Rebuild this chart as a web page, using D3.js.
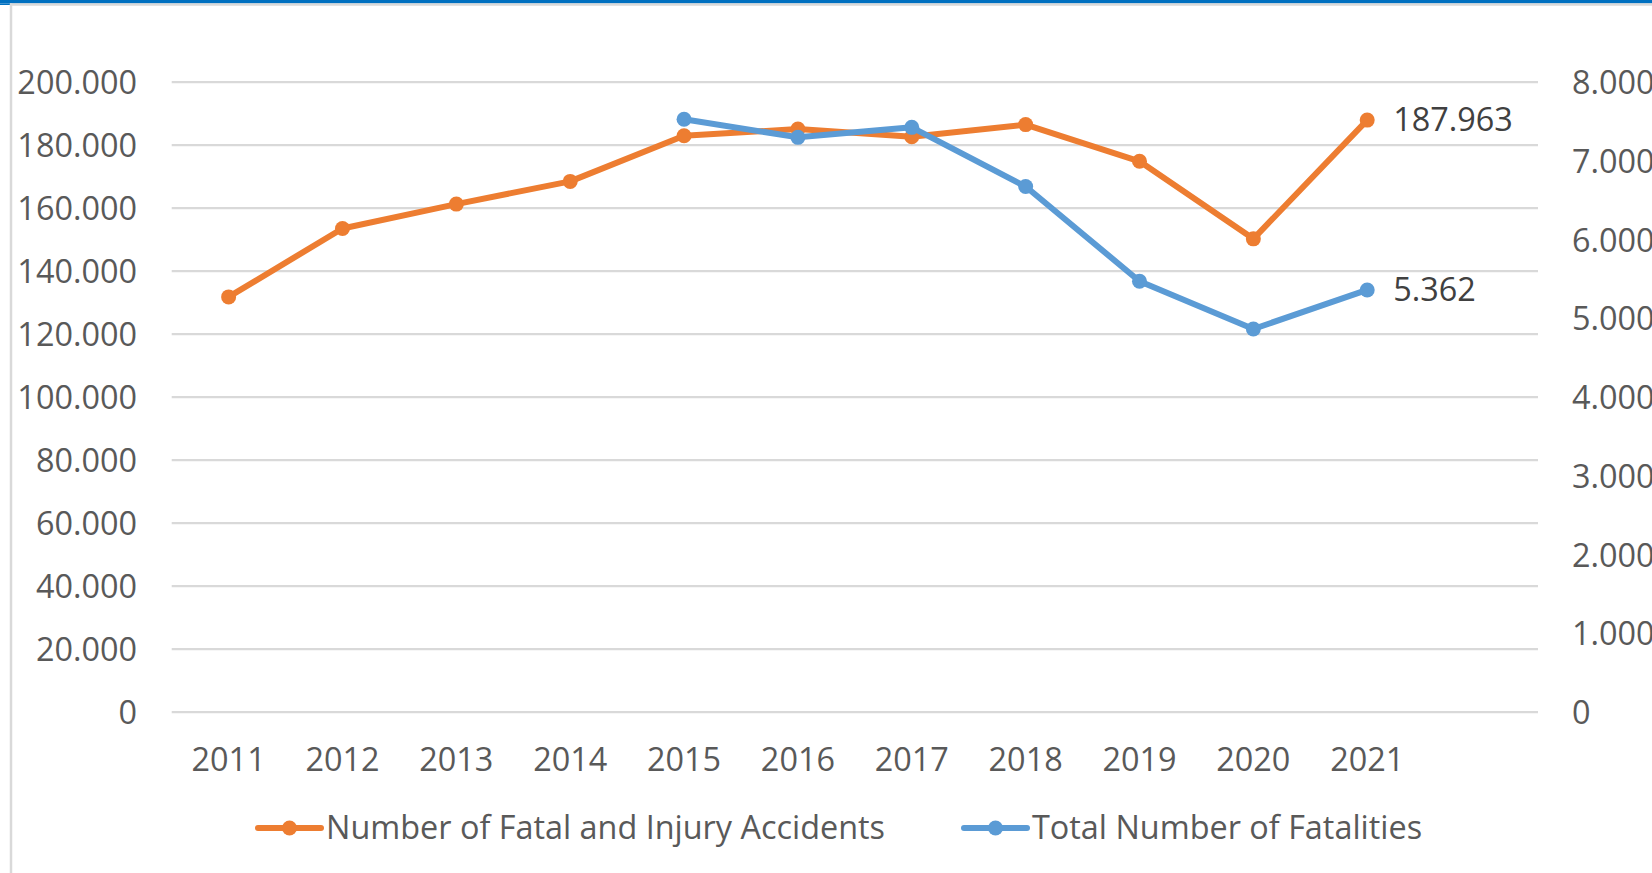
<!DOCTYPE html>
<html>
<head>
<meta charset="utf-8">
<script src="https://cdn.jsdelivr.net/npm/d3@7"></script>
<style>
  html, body { margin: 0; padding: 0; background: #fff; }
  svg { display: block; }
  text { font-family: "Open Sans", "Noto Sans", sans-serif; fill: #595959; }
</style>
</head>
<body>
<svg id="chart" width="1652" height="873"></svg>
<script>
const years = ["2011","2012","2013","2014","2015","2016","2017","2018","2019","2020","2021"];
const accidents = [131845, 153552, 161306, 168512, 183011, 185128, 182669, 186532, 174896, 150275, 187963];
const fatalities = [null, null, null, null, 7530, 7300, 7427, 6675, 5473, 4866, 5362];
const leftTicks = [0, 20000, 40000, 60000, 80000, 100000, 120000, 140000, 160000, 180000, 200000];
const rightTicks = [0, 1000, 2000, 3000, 4000, 5000, 6000, 7000, 8000];
const seriesNames = ["Number of Fatal and Injury Accidents", "Total Number of Fatalities"];
const colors = ["#ED7D31", "#5B9BD5"];

const fmt = v => d3.format(",")(v).replace(/,/g, ".");

const svg = d3.select("#chart");
const W = 1652, H = 873;
const plotL = 171.7, plotR = 1538, plotT = 82.2, plotB = 712.2;
const band = (plotR - plotL) / 12;
const FS = 32.4;

const x = d3.scaleBand().domain(years).range([plotL, plotL + band * years.length]);
const yL = d3.scaleLinear().domain([0, 200000]).range([plotB, plotT]);
const yR = d3.scaleLinear().domain([0, 8000]).range([plotB, plotT]);
const cx = d => x(d) + x.bandwidth() / 2;

// frame: blue top bar and light grey border
svg.append("rect").attr("x", 0).attr("y", 0).attr("width", W).attr("height", 3.5).attr("fill", "#0070C0");
svg.append("rect").attr("x", 0).attr("y", 3.5).attr("width", 10).attr("height", 1.5).attr("fill", "#0070C0");
svg.append("line").attr("x1", 10).attr("x2", W).attr("y1", 4.5).attr("y2", 4.5).attr("stroke", "#d9d9d9").attr("stroke-width", 2.5);
svg.append("line").attr("x1", 11).attr("x2", 11).attr("y1", 3.5).attr("y2", H).attr("stroke", "#d9d9d9").attr("stroke-width", 2.5);

// gridlines
svg.append("g").selectAll("line").data(leftTicks).join("line")
  .attr("x1", plotL).attr("x2", plotR)
  .attr("y1", d => yL(d)).attr("y2", d => yL(d))
  .attr("stroke", "#d9d9d9").attr("stroke-width", 2.2);

// left axis
const gL = svg.append("g").attr("transform", `translate(137,0)`)
  .call(d3.axisLeft(yL).tickValues(leftTicks).tickFormat(fmt).tickSize(0).tickPadding(0));
gL.select(".domain").remove();
gL.selectAll("text").attr("font-size", FS).style("fill", "#595959").attr("dy", "0.35em")
  .style("font-family", "'Open Sans', sans-serif");

// right axis
const gR = svg.append("g").attr("transform", `translate(1572,0)`)
  .call(d3.axisRight(yR).tickValues(rightTicks).tickFormat(fmt).tickSize(0).tickPadding(0));
gR.select(".domain").remove();
gR.selectAll("text").attr("font-size", FS).style("fill", "#595959").attr("dy", "0.35em")
  .style("font-family", "'Open Sans', sans-serif");

// x axis
const gX = svg.append("g").attr("transform", `translate(0,${plotB})`)
  .call(d3.axisBottom(x).tickSize(0).tickPadding(0));
gX.select(".domain").remove();
gX.selectAll("text").attr("font-size", FS).style("fill", "#595959").attr("y", 47).attr("dy", "0.35em")
  .style("font-family", "'Open Sans', sans-serif");

// lines
const lineL = d3.line().defined(d => d[1] != null).x(d => cx(d[0])).y(d => yL(d[1]));
const lineR = d3.line().defined(d => d[1] != null).x(d => cx(d[0])).y(d => yR(d[1]));
const dataA = years.map((y, i) => [y, accidents[i]]);
const dataF = years.map((y, i) => [y, fatalities[i]]);

svg.append("path").datum(dataA).attr("d", lineL).attr("fill", "none")
  .attr("stroke", colors[0]).attr("stroke-width", 6).attr("stroke-linejoin", "round");
svg.append("g").selectAll("circle").data(dataA).join("circle")
  .attr("cx", d => cx(d[0])).attr("cy", d => yL(d[1])).attr("r", 7.5).attr("fill", colors[0]);

svg.append("path").datum(dataF).attr("d", lineR).attr("fill", "none")
  .attr("stroke", colors[1]).attr("stroke-width", 6).attr("stroke-linejoin", "round");
svg.append("g").selectAll("circle").data(dataF.filter(d => d[1] != null)).join("circle")
  .attr("cx", d => cx(d[0])).attr("cy", d => yR(d[1])).attr("r", 7.5).attr("fill", colors[1]);

// data labels on last point
const last = years.length - 1;
svg.append("text").attr("x", cx(years[last]) + 26).attr("y", yL(accidents[last])).attr("dy", "0.35em")
  .attr("font-size", FS).style("fill", "#404040").text(fmt(accidents[last]));
svg.append("text").attr("x", cx(years[last]) + 26).attr("y", yR(fatalities[last])).attr("dy", "0.35em")
  .attr("font-size", FS).style("fill", "#404040").text(fmt(fatalities[last]));

// legend
const legendY = 828;
const legendItems = [
  { name: seriesNames[0], color: colors[0], x0: 258, x1: 321, tx: 326 },
  { name: seriesNames[1], color: colors[1], x0: 964, x1: 1027, tx: 1032 }
];
const lg = svg.append("g").selectAll("g").data(legendItems).join("g");
lg.append("line").attr("x1", d => d.x0).attr("x2", d => d.x1).attr("y1", legendY).attr("y2", legendY)
  .attr("stroke", d => d.color).attr("stroke-width", 6).attr("stroke-linecap", "round");
lg.append("circle").attr("cx", d => (d.x0 + d.x1) / 2).attr("cy", legendY).attr("r", 7.5).attr("fill", d => d.color);
lg.append("text").attr("x", d => d.tx).attr("y", legendY).attr("dy", "0.35em").attr("font-size", FS)
  .text(d => d.name);
</script>
</body>
</html>
